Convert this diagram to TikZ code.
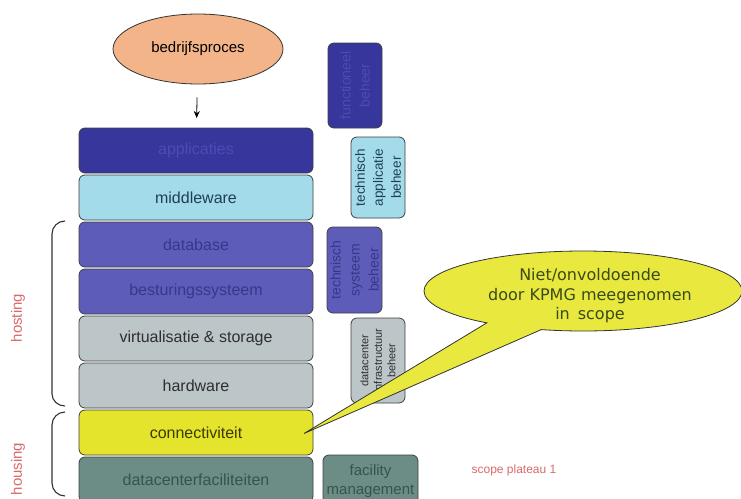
\documentclass[tikz,border=0pt]{standalone}
\usepackage{fontspec}
\setmainfont{Liberation Sans}
\newfontfamily\balloonfont{DejaVu Sans}
\usetikzlibrary{positioning,shapes.geometric,shapes.callouts,arrows.meta}
\definecolor{orange1}{HTML}{F4B489}
\definecolor{blue1}{HTML}{36369C}
\definecolor{blue1t}{HTML}{4C4CB4}
\definecolor{blue2}{HTML}{A3DBEB}
\definecolor{blue2t}{HTML}{1F3F58}
\definecolor{blue3}{HTML}{5D5DB9}
\definecolor{blue3t}{HTML}{37378C}
\definecolor{grey1}{HTML}{BCC6C9}
\definecolor{grey1t}{HTML}{2E2E2E}
\definecolor{yellow1}{HTML}{E4E42C}
\definecolor{yellow1t}{HTML}{3A3A00}
\definecolor{green1}{HTML}{6C8C86}
\definecolor{green1t}{HTML}{37534E}
\definecolor{yellow2}{HTML}{E8E83E}
\definecolor{green2}{HTML}{3B4A1A}
\definecolor{red5}{HTML}{D86A6A}

\begin{document}
\begin{tikzpicture}[x=1pt,y=-1pt,
  layer/.style={draw=black!75, line width=0.8pt, rounded corners=6pt, minimum width=234pt,
    minimum height=45pt, outer sep=0pt, font=\fontsize{16}{18}\selectfont},
  sidebox/.style={draw=black!75, line width=0.8pt, rounded corners=6pt, rotate=90, align=center,
    inner sep=1pt, outer sep=0pt},
  brace/.style={draw=black!80, line width=1.1pt},
  sidelabel/.style={text=red5, rotate=90, font=\fontsize{15}{17}\selectfont}]
\useasboundingbox (0,0) rectangle (741,498);
\clip (0,0) rectangle (741,498);
% business process
\node[ellipse, draw=black!80, line width=0.8pt, fill=orange1, minimum width=170pt, minimum height=70pt,
  font=\fontsize{15}{18}\selectfont] (proc) at (198,49) {bedrijfsproces};
% stack of layers
\node[layer, fill=blue1, text=blue1t] (app) at (196,150.5) {applicaties};
\node[layer, fill=blue2, text=blue2t, below=2pt of app] (mid) {middleware};
\node[layer, fill=blue3, text=blue3t, below=2pt of mid] (db) {database};
\node[layer, fill=blue3, text=blue3t, below=2pt of db] (os) {besturingssysteem};
\node[layer, fill=grey1, text=grey1t, below=2pt of os] (virt) {virtualisatie \& storage};
\node[layer, fill=grey1, text=grey1t, below=2pt of virt] (hw) {hardware};
\node[layer, fill=yellow1, text=yellow1t, below=2pt of hw] (conn) {connectiviteit};
\node[layer, fill=green1, text=green1t, below=2pt of conn] (dc) {datacenterfaciliteiten};
\draw[-{Stealth[length=7pt,width=6pt]}, line width=0.8pt, shorten <=13pt, shorten >=10pt] (proc) -- (app);
% management boxes
\node[sidebox, fill=blue1, text=blue1t, minimum width=85pt, minimum height=54pt,
  font=\fontsize{14}{19}\selectfont] (func) at (355,85.5) {functioneel\\beheer};
\node[sidebox, fill=blue2, text=blue2t, minimum width=81pt, minimum height=54pt,
  font=\fontsize{13.5}{18}\selectfont] (techapp) at (378,177.5) {technisch\\applicatie\\beheer};
\node[sidebox, fill=blue3, text=blue3t, minimum width=86pt, minimum height=55pt,
  font=\fontsize{14}{19}\selectfont] (techsys) at (354.5,270) {technisch\\systeem\\beheer};
\node[sidebox, fill=grey1, text=grey1t, minimum width=85pt, minimum height=54pt,
  font=\fontsize{11}{13.5}\selectfont] (dcinfra) at (378,360.5) {datacenter\\infrastructuur\\beheer};
\node[draw=black!75, line width=0.8pt, rounded corners=6pt, fill=green1, text=green1t, align=center,
  minimum width=95pt, minimum height=52pt, inner sep=0pt,
  font=\fontsize{15}{19}\selectfont] (fac) at (370.5,481) {facility\\management};
% braces
\draw[brace] (65,221) to[out=180,in=90] (52,234) -- (52,394) to[out=-90,in=180] (65,406);
\draw[brace] (65,412) to[out=180,in=90] (52,425) -- (52,483) to[out=-90,in=180] (65,496);
\node[sidelabel] (host) at (18,318) {hosting};
\node[sidelabel] (hous) at (18,469) {housing};
% remark
\node[ellipse callout, draw=black!80, line width=0.8pt, fill=yellow2,
  minimum width=318pt, minimum height=80pt, inner sep=0pt,
  callout absolute pointer={([xshift=-9pt,yshift=-1pt]conn.east)}, callout pointer arc=22]
  (note) at (583,291) {};
\node[text=green2, align=center, inner sep=0pt,
  font=\balloonfont\fontsize{16}{19.5}\selectfont] (notetext) at (590,296)
  {Niet/onvoldoende\\door KPMG meegenomen\\in\enspace scope};
\node[text=red5, font=\fontsize{12}{14}\selectfont] (plateau) at (514,470) {scope plateau 1};
\end{tikzpicture}
\end{document}
